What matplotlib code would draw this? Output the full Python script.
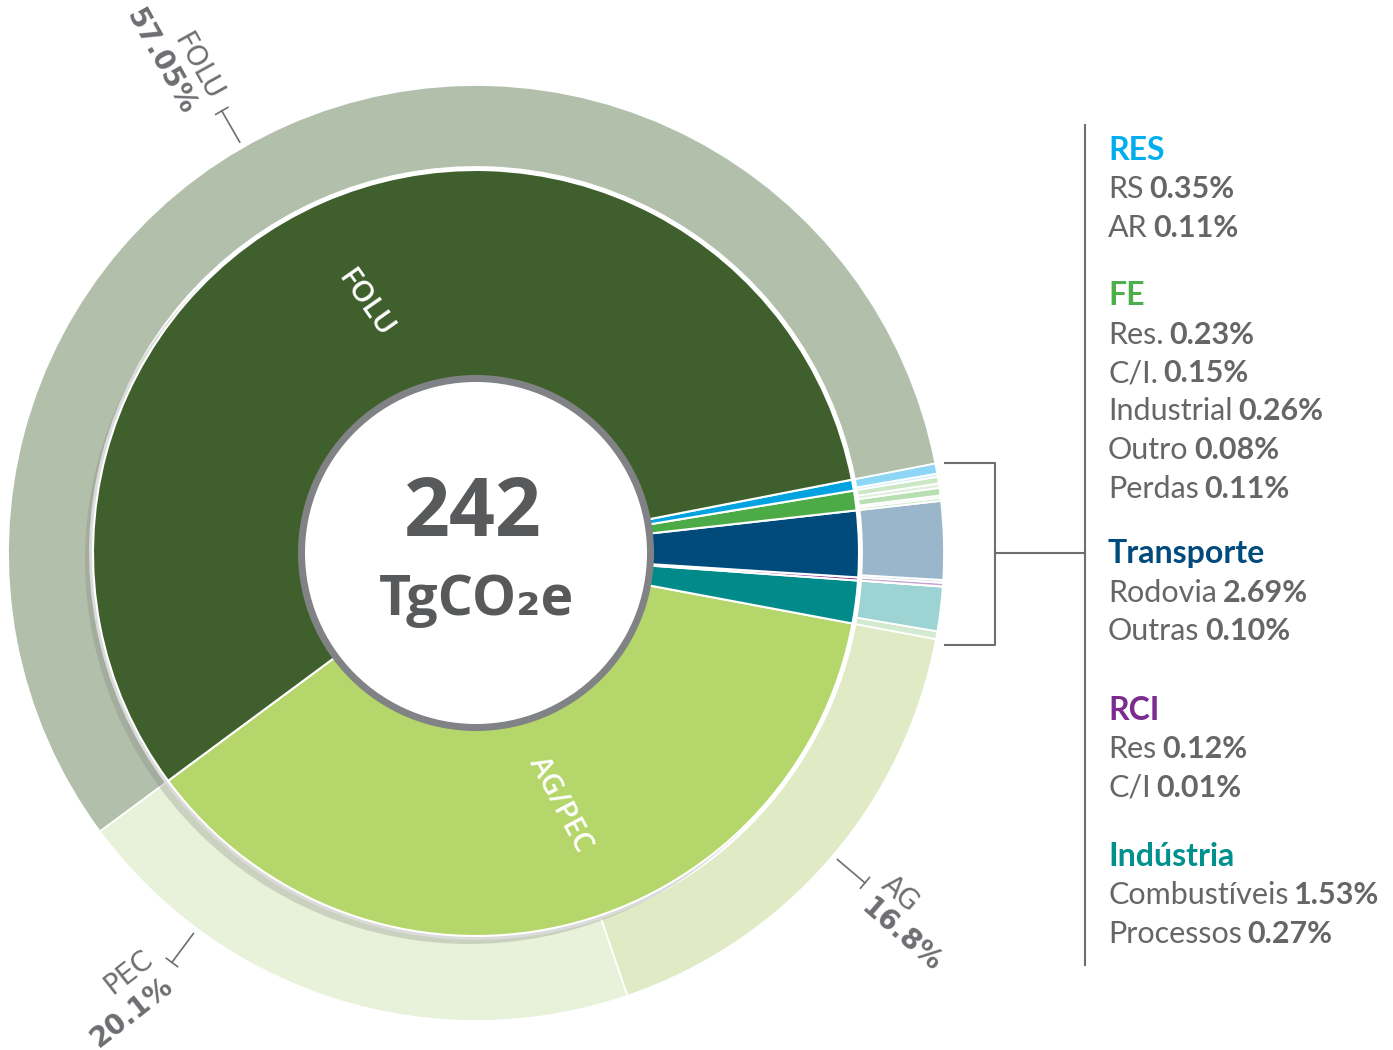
import numpy as np
import matplotlib.pyplot as plt

# inner ring, counterclockwise from the FOLU / AG-PEC boundary
inner_labels = ['AG/PEC', 'Indústria', 'RCI', 'Transporte', 'FE', 'RES', 'FOLU']
inner_values = [36.9, 1.80, 0.13, 2.79, 0.83, 0.46, 57.05]
inner_colors = ['#b5d66a', '#008b8a', '#7a2a8c', '#004b7b', '#4cab46', '#00a3df', '#3f5f2d']

# outer ring, same order
outer_groups = ['AG/PEC', 'AG/PEC', 'Indústria', 'Indústria', 'RCI', 'RCI', 'Transporte',
                'Transporte', 'FE', 'FE', 'FE', 'FE', 'FE', 'RES', 'RES', 'FOLU']
outer_labels = ['PEC', 'AG', 'Processos', 'Combustíveis', 'C/I', 'Res', 'Outras', 'Rodovia',
                'Perdas', 'Outro', 'Industrial', 'C/I.', 'Res.', 'AR', 'RS', 'FOLU']
outer_values = [20.1, 16.8, 0.27, 1.53, 0.01, 0.12, 0.10, 2.69,
                0.11, 0.08, 0.26, 0.15, 0.23, 0.11, 0.35, 57.05]
outer_colors = ['#e8f1d9', '#e0ebc5', '#d4ead0', '#9dd3d2', '#e6d8ec', '#c6a2d1', '#dfe8ef', '#9ab6ca',
                '#d6ecd2', '#e4f2e1', '#b8dfb2', '#e0f0dc', '#cbe7c6', '#d2eef9', '#8dd6f6', '#b2bfaa']

legend_groups = ['RES', 'FE', 'Transporte', 'RCI', 'Indústria']
legend_colors = ['#00aeef', '#4caf4b', '#004b7c', '#7d2b8e', '#00908e']

total = 242
start = 216.5
cx, cy = 476, 497
R_OUT, R_MID, R_IN, R_HOLE = 468, 386, 383, 175
grey = '#6d6e71'

fig = plt.figure(figsize=(13.93, 10.5), dpi=100)
ax = fig.add_axes([0, 0, 1, 1])

ax.pie(outer_values, colors=outer_colors, radius=R_OUT, center=(cx, cy), startangle=start,
       counterclock=True, wedgeprops=dict(width=R_OUT - R_MID, edgecolor='white', linewidth=1.3))

# soft shadow of the inner disc
ax.add_patch(plt.Circle((cx - 7, cy - 7), R_IN + 1, color='#7f7f7f', alpha=0.28, lw=0))

ax.pie(inner_values, colors=inner_colors, radius=R_IN, center=(cx, cy), startangle=start,
       counterclock=True, wedgeprops=dict(width=R_IN - R_HOLE, edgecolor='white', linewidth=1.5))

ax.add_patch(plt.Circle((cx, cy), 178, color='#808285', lw=0, zorder=5))
ax.add_patch(plt.Circle((cx, cy), 171, color='white', lw=0, zorder=6))
ax.text(cx - 3, cy + 38, str(total), ha='center', va='center', fontsize=58, fontweight='bold',
        color='#58595b', family=['Open Sans', 'DejaVu Sans'], zorder=7)
ax.text(cx, cy - 48, 'TgCO₂e', ha='center', va='center', fontsize=40, fontweight='bold',
        color='#58595b', family=['Open Sans', 'DejaVu Sans'], zorder=7)

# labels inside the inner ring
for name, ang, r, rot in [('FOLU', 113.9, 273, -55), ('AG/PEC', -71.6, 265, -62)]:
    a = np.radians(ang)
    ax.text(cx + r * np.cos(a), cy + r * np.sin(a), name, ha='center', va='center', rotation=rot,
            rotation_mode='anchor', color='white', fontsize=21, fontweight='semibold',
            family=['Open Sans', 'DejaVu Sans'])


def ring_label(name, ang, rot, ha, off1, off2):
    v = outer_values[outer_labels.index(name)]
    a = np.radians(ang)
    u = np.array([np.cos(a), np.sin(a)])
    t = np.array([-u[1], u[0]])
    ax.plot([cx + 474 * u[0], cx + 510 * u[0]], [cy + 474 * u[1], cy + 510 * u[1]], color=grey, lw=1.2)
    p = np.array([cx, cy]) + 510 * u
    ax.plot([p[0] - 7 * t[0], p[0] + 7 * t[0]], [p[1] - 7 * t[1], p[1] + 7 * t[1]], color=grey, lw=1.2)
    r = np.radians(rot)
    read = np.array([np.cos(r), np.sin(r)])
    up = np.array([-np.sin(r), np.cos(r)])
    base = p + 14 * read if ha == 'left' else p - 14 * read
    p1 = base + off1 * up
    p2 = base + off2 * up
    ax.text(p1[0], p1[1], name, rotation=rot, rotation_mode='anchor', ha=ha, va='center',
            fontsize=20, color=grey, family='DejaVu Sans')
    ax.text(p2[0], p2[1], f'{v:g}%', rotation=rot, rotation_mode='anchor', ha=ha, va='center',
            fontsize=20, color=grey, fontweight='bold', family='DejaVu Sans')


ring_label('FOLU', 119.9, -61, 'right', 0, -30)
ring_label('PEC', 233.4, 38, 'right', 19, -14)
ring_label('AG', -40.3, -41, 'left', 15, -16)

# bracket + divider
ax.plot([945, 995, 995, 945], [587, 587, 405, 405], color=grey, lw=1.5)
ax.plot([995, 1085], [497, 497], color=grey, lw=1.5)
ax.plot([1085, 1085], [925, 85], color=grey, lw=1.5)

# legend column
fam = ['Lato', 'DejaVu Sans']
header_y = [160, 305, 563, 720, 866]
step = 38.5
for g, col, hy in zip(legend_groups, legend_colors, header_y):
    ax.text(1108, 1050 - hy, g, color=col, fontsize=23, fontweight='bold', family=fam, va='baseline')
    items = [i for i in range(len(outer_labels)) if outer_groups[i] == g][::-1]
    for k, i in enumerate(items):
        y = 1050 - (hy + step * (k + 1))
        t = ax.text(1108, y, outer_labels[i], color='#666666', fontsize=22, family=fam, va='baseline')
        ax.annotate(f'{outer_values[i]:.2f}%', xy=(1, 0), xycoords=t, xytext=(4, 0),
                    textcoords='offset points', ha='left', va='bottom', color='#666666',
                    fontsize=22, fontweight='bold', family=fam)

ax.set_xlim(0, 1393)
ax.set_ylim(0, 1050)
ax.axis('off')
fig.savefig('out.png', dpi=100)
